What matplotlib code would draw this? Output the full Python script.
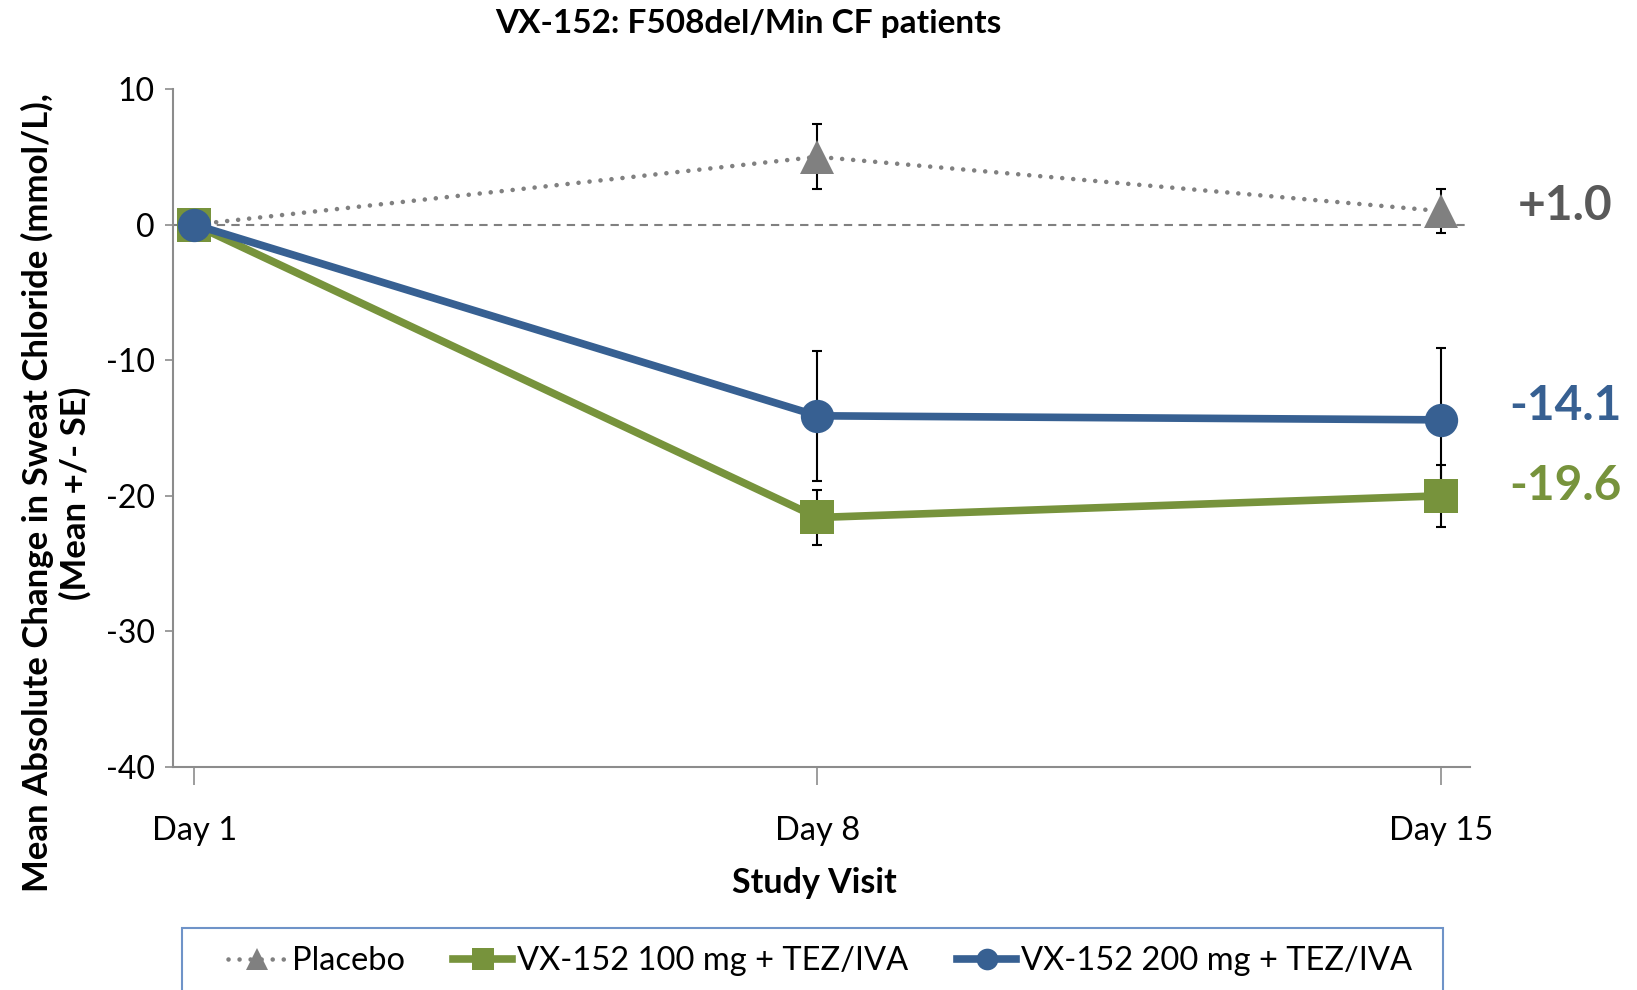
import matplotlib
matplotlib.use("Agg")
import matplotlib.pyplot as plt
from matplotlib.patches import Rectangle

plt.rcParams['font.family'] = ['Lato', 'DejaVu Sans']
plt.rcParams['axes.unicode_minus'] = False

days = ['Day 1', 'Day 8', 'Day 15']
placebo = [0.0, 5.0, 1.0]
placebo_se = [0.0, 2.4, 1.6]
dose100 = [0.0, -21.6, -20.0]
dose100_se = [0.0, 2.0, 2.3]
dose200 = [0.0, -14.1, -14.4]
dose200_se = [0.0, 4.8, 5.3]
end_labels = ['+1.0', '-14.1', '-19.6']
end_label_y = [1.4, -13.4, -19.3]
series_names = ['Placebo', 'VX-152 100 mg + TEZ/IVA', 'VX-152 200 mg + TEZ/IVA']

gray = '#808080'
green = '#77933C'
blue = '#376092'

W, H = 1637, 990
fig = plt.figure(figsize=(W/100, H/100), dpi=100)
ax = fig.add_axes([173/W, 1-767/H, (1470-173)/W, (767-89)/H])

x = list(range(len(days)))

ax.axhline(0, color=gray, lw=1.5, ls=(0, (4, 3)), zorder=1)

# error bars
for vals, se in [(placebo, placebo_se), (dose100, dose100_se), (dose200, dose200_se)]:
    ax.errorbar(x[1:], vals[1:], yerr=se[1:], fmt='none', ecolor='black',
                elinewidth=1.5, capsize=3.5, capthick=1.5, zorder=2)

ax.plot(x, placebo, color=gray, lw=3.3, ls=(0, (0.01, 2.4)), dash_capstyle='round',
        marker='^', markersize=24, markeredgewidth=0, zorder=3, label=series_names[0])
ax.plot(x, dose100, color=green, lw=5.5, marker='s', markersize=24,
        markeredgewidth=0, zorder=4, label=series_names[1])
ax.plot(x, dose200, color=blue, lw=5.5, marker='o', markersize=24,
        markeredgewidth=0, zorder=5, label=series_names[2])

ax.set_xlim(-0.034, 2.047)
ax.set_ylim(-40, 10)
ax.set_yticks([10, 0, -10, -20, -30, -40])
ax.set_xticks(x)
ax.set_xticklabels(days)
for s in ['top', 'right']:
    ax.spines[s].set_visible(False)
for s in ['left', 'bottom']:
    ax.spines[s].set_color('#8C8C8C')
    ax.spines[s].set_linewidth(1.5)
ax.tick_params(axis='y', length=6, width=1.2, color='#8C8C8C', labelsize=23, pad=7)
ax.tick_params(axis='x', length=13, width=1.2, color='#8C8C8C', labelsize=23.5, pad=22)

for lab, yv, c in zip(end_labels, end_label_y, ['#595959', blue, green]):
    ax.text(2.2, yv, lab, color=c, fontsize=34.5, fontweight='bold',
            ha='center', va='center', clip_on=False)

fig.text(748/W, 1-23/H, 'VX-152: F508del/Min CF patients', fontsize=24,
         fontweight='bold', ha='center', va='center')
fig.text(814/W, 1-883/H, 'Study Visit', fontsize=24.5, fontweight='bold',
         ha='center', va='center')
fig.text(56/W, 1-493/H, 'Mean Absolute Change in Sweat Chloride (mmol/L),\n(Mean +/- SE)',
         fontsize=25, fontweight='bold', rotation=90, ha='center', va='center',
         multialignment='center', linespacing=1.2)

fig.patches.append(Rectangle((182/W, -0.05), (1443-182)/W, 0.05+1-928/H,
                             transform=fig.transFigure, fill=False,
                             edgecolor='#6F93C8', lw=1.5))
leg = fig.legend(loc='center', bbox_to_anchor=(820/W, 1-961/H), ncol=3, frameon=False,
                 fontsize=23.5, markerscale=0.65, handlelength=1.8, columnspacing=1.5,
                 handletextpad=0.15)

fig.savefig('out.png', dpi=100)
